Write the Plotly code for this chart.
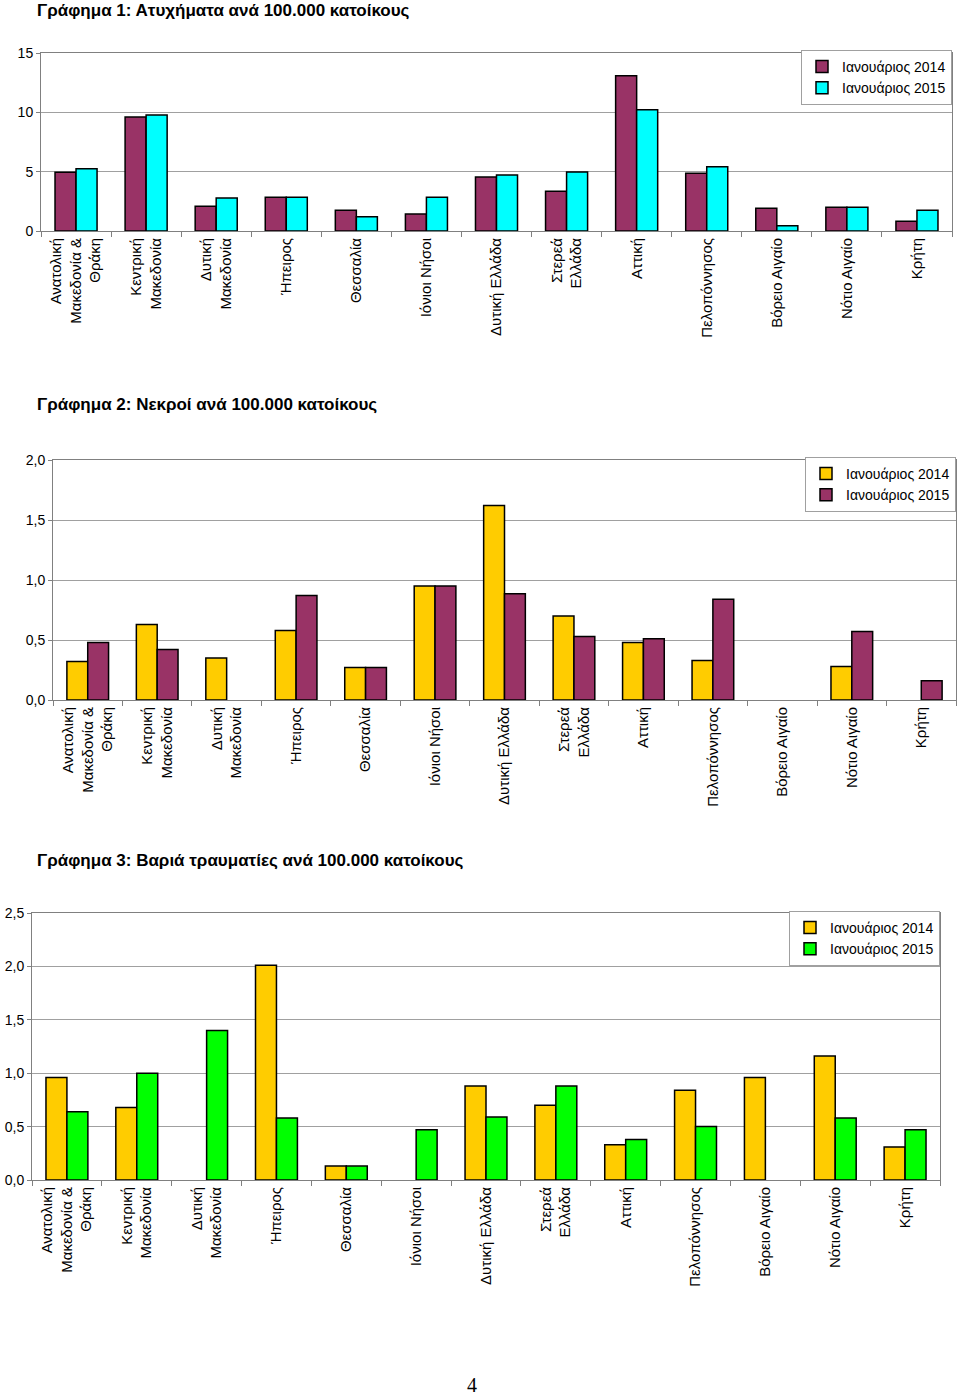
import plotly.graph_objects as go

regions = [
    "Ανατολική<br>Μακεδονία &<br>Θράκη", "Κεντρική<br>Μακεδονία", "Δυτική<br>Μακεδονία",
    "Ήπειρος", "Θεσσαλία", "Ιόνιοι Νήσοι", "Δυτική Ελλάδα", "Στερεά<br>Ελλάδα",
    "Αττική", "Πελοπόννησος", "Βόρειο Αιγαίο", "Νότιο Αιγαίο", "Κρήτη",
]
series_names = ["Ιανουάριος 2014", "Ιανουάριος 2015"]

accidents_2014 = [4.95, 9.6, 2.08, 2.84, 1.74, 1.43, 4.55, 3.34, 13.09, 4.86, 1.91, 2.0, 0.82]
accidents_2015 = [5.25, 9.77, 2.78, 2.84, 1.21, 2.84, 4.72, 4.97, 10.22, 5.42, 0.45, 2.0, 1.74]

deaths_2014 = [0.32, 0.63, 0.35, 0.58, 0.27, 0.95, 1.62, 0.70, 0.48, 0.33, None, 0.28, None]
deaths_2015 = [0.48, 0.42, None, 0.87, 0.27, 0.95, 0.885, 0.53, 0.51, 0.84, None, 0.57, 0.16]

injuries_2014 = [0.96, 0.68, None, 2.01, 0.13, None, 0.88, 0.70, 0.33, 0.84, 0.96, 1.16, 0.31]
injuries_2015 = [0.64, 1.0, 1.40, 0.58, 0.13, 0.47, 0.59, 0.88, 0.38, 0.50, None, 0.58, 0.47]

titles = [
    "Γράφημα 1: Ατυχήματα ανά 100.000 κατοίκους",
    "Γράφημα 2: Νεκροί ανά 100.000 κατοίκους",
    "Γράφημα 3: Βαριά τραυματίες ανά 100.000 κατοίκους",
]

PURPLE = "#993366"
CYAN = "#00FFFF"
YELLOW = "#FFCC00"
GREEN = "#00FF00"

W, H = 960, 1398
FONT = "Liberation Sans, Arial, sans-serif"


def px_x(p):
    return p / W


def px_y(p):
    return 1 - p / H


fig = go.Figure()

charts = [
    dict(s1=accidents_2014, s2=accidents_2015, c1=PURPLE, c2=CYAN, x0=41, x1=952, y0=53, y1=231,
         rng=[0, 15], dtick=5, fmt="d", leg=(952, 50)),
    dict(s1=deaths_2014, s2=deaths_2015, c1=YELLOW, c2=PURPLE, x0=53, x1=956, y0=460, y1=700,
         rng=[0, 2], dtick=0.5, fmt=".1f", leg=(956, 457)),
    dict(s1=injuries_2014, s2=injuries_2015, c1=YELLOW, c2=GREEN, x0=32, x1=940, y0=913, y1=1180,
         rng=[0, 2.5], dtick=0.5, fmt=".1f", leg=(940, 911)),
]
title_y = [-1, 393, 849]

for i, ch in enumerate(charts):
    n = "" if i == 0 else str(i + 1)
    legname = "legend" if i == 0 else f"legend{i + 1}"
    for vals, col, name in [(ch["s1"], ch["c1"], series_names[0]), (ch["s2"], ch["c2"], series_names[1])]:
        fig.add_trace(go.Bar(
            x=regions, y=vals, name=name,
            marker=dict(color=col, line=dict(color="black", width=1.5)),
            xaxis="x" + n, yaxis="y" + n, legend=legname,
        ))
    fig.layout["xaxis" + n] = dict(
        domain=[px_x(ch["x0"]), px_x(ch["x1"])], anchor="y" + n, automargin=False,
        type="category", tickangle=-90, tickson="boundaries", ticks="outside", ticklen=5,
        tickcolor="#808080", showline=True, linecolor="#808080", linewidth=1, mirror=True,
        showgrid=False, tickfont=dict(family=FONT, size=15, color="black"),
    )
    fig.layout["yaxis" + n] = dict(
        domain=[px_y(ch["y1"]), px_y(ch["y0"])], anchor="x" + n, automargin=False,
        range=ch["rng"], dtick=ch["dtick"], tick0=0, tickformat=ch["fmt"],
        ticks="outside", ticklen=4, tickcolor="#808080",
        showline=True, linecolor="#808080", linewidth=1, mirror=True,
        showgrid=True, gridcolor="#A0A0A0", gridwidth=1, zeroline=False,
        tickfont=dict(family=FONT, size=14, color="black"),
    )
    fig.layout[legname] = dict(
        x=px_x(ch["leg"][0]), y=px_y(ch["leg"][1]), xanchor="right", yanchor="top",
        bgcolor="white", bordercolor="#A0A0A0", borderwidth=1,
        font=dict(family=FONT, size=14, color="black"), traceorder="normal",
        itemwidth=30, tracegroupgap=0,
    )
    fig.add_annotation(
        text="<b>" + titles[i] + "</b>", xref="paper", yref="paper",
        x=px_x(35), y=px_y(title_y[i]), xanchor="left", yanchor="top",
        showarrow=False, font=dict(family=FONT, size=17, color="black"),
    )

fig.add_annotation(
    text="4", xref="paper", yref="paper", x=px_x(472), y=px_y(1372), xanchor="center", yanchor="top",
    showarrow=False, font=dict(family="Liberation Serif, Times New Roman, serif", size=20, color="black"),
)

fig.update_layout(
    width=W, height=H, margin=dict(l=0, r=0, t=0, b=0, autoexpand=False),
    paper_bgcolor="white", plot_bgcolor="white",
    barmode="group", bargap=0.4, bargroupgap=0,
    separators=",.", showlegend=True,
)

fig.write_html("out.html", config={"displayModeBar": False},
               post_script="document.body.style.margin='0';")
